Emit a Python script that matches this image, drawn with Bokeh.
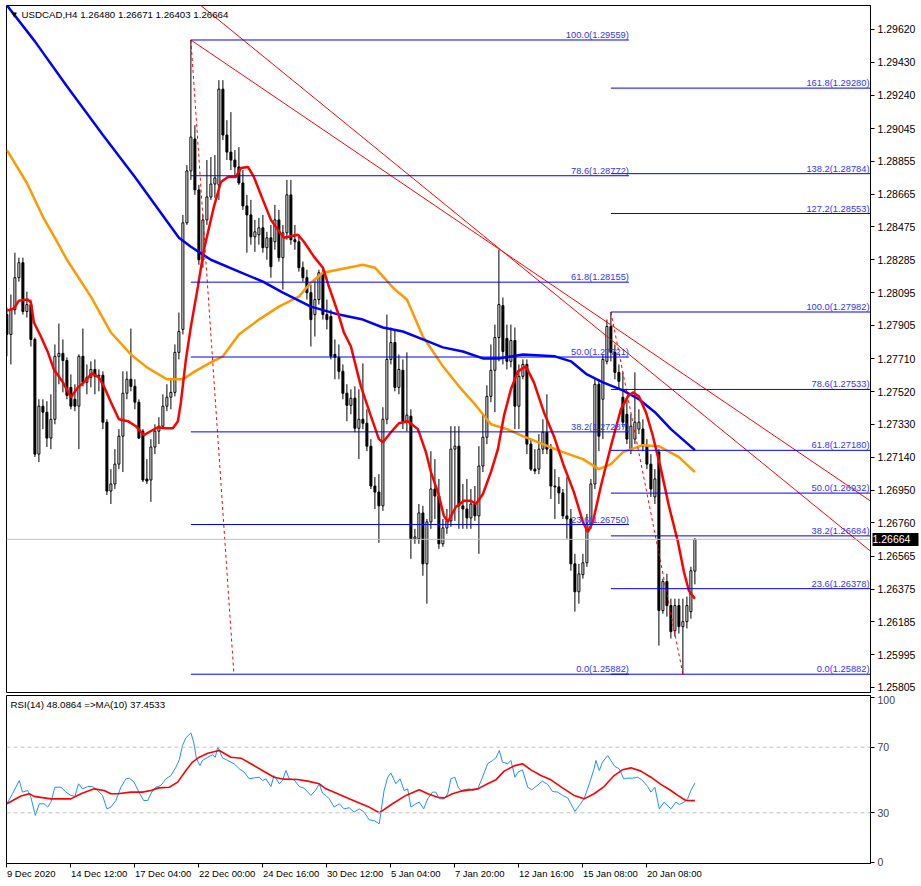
from bokeh.plotting import figure
from bokeh.models import (ColumnDataSource, Range1d, FixedTicker, Span, Label, LabelSet,
                          PrintfTickFormatter, LinearAxis)
from bokeh.layouts import column
from bokeh.embed import file_html
from bokeh.resources import INLINE
from bokeh.core.properties import value

# ---------------- data ----------------
opens = [
    1.27967, 1.27852, 1.27996, 1.28181, 1.28268, 1.27985, 1.28025, 1.27823, 1.27158, 1.27436,
    1.27401, 1.27251, 1.27360, 1.27725, 1.27742, 1.27701, 1.27545, 1.27476, 1.27436, 1.27725,
    1.27574, 1.27603, 1.27649, 1.27609, 1.27615, 1.27343, 1.26944, 1.26985, 1.27100, 1.27262,
    1.27511, 1.27592, 1.27551, 1.27459, 1.27291, 1.27014, 1.27008, 1.27199, 1.27291, 1.27320,
    1.27436, 1.27488, 1.27516, 1.27748, 1.27881, 1.28499, 1.28800, 1.28985, 1.28690, 1.28285,
    1.28516, 1.28649, 1.28724, 1.28719, 1.29274, 1.29008, 1.28909, 1.28863, 1.28823, 1.28730,
    1.28597, 1.28545, 1.28418, 1.28430, 1.28470, 1.28355, 1.28412, 1.28389, 1.28516, 1.28297,
    1.28441, 1.28661, 1.28401, 1.28389, 1.28239, 1.28181, 1.28094, 1.27967, 1.28054, 1.28210,
    1.27967, 1.27956, 1.27736, 1.27719, 1.27638, 1.27511, 1.27441, 1.27482, 1.27308, 1.27360,
    1.27337, 1.27204, 1.26973, 1.26938, 1.26858, 1.27360, 1.27707, 1.27805, 1.27545, 1.27644,
    1.27349, 1.27378, 1.26667, 1.26667, 1.26817, 1.26522, 1.26765, 1.26956, 1.26915, 1.26638,
    1.26730, 1.26771, 1.27187, 1.27204, 1.26858, 1.26840, 1.26788, 1.26869, 1.26800, 1.27089,
    1.27256, 1.27493, 1.27644, 1.27834, 1.28019, 1.27829, 1.27696, 1.27817, 1.27436, 1.27609,
    1.27678, 1.27216, 1.27071, 1.27071, 1.27187, 1.27285, 1.27187, 1.26973, 1.26968, 1.26933,
    1.26800, 1.26782, 1.26522, 1.26360, 1.26459, 1.26528, 1.26753, 1.26985, 1.27563, 1.27476,
    1.27696, 1.27898, 1.27748, 1.27632, 1.27488, 1.27389, 1.27187, 1.27245, 1.27303, 1.27303,
    1.27204, 1.27100, 1.26910, 1.27170, 1.26251, 1.26419, 1.26280, 1.26135, 1.26280, 1.26158,
    1.26187, 1.26245, 1.26480]
highs = [
    1.28008, 1.28083, 1.28326, 1.28297, 1.28297, 1.28100, 1.28054, 1.27834, 1.27476, 1.27476,
    1.27465, 1.27505, 1.27794, 1.27915, 1.27823, 1.27719, 1.27620, 1.27563, 1.27736, 1.27886,
    1.27678, 1.27696, 1.27707, 1.27649, 1.27638, 1.27360, 1.27071, 1.27187, 1.27303, 1.27638,
    1.27638, 1.27886, 1.27592, 1.27476, 1.27303, 1.27129, 1.27245, 1.27331, 1.27372, 1.27505,
    1.27563, 1.27592, 1.27794, 1.27979, 1.28545, 1.28834, 1.29559, 1.29065, 1.28719, 1.28545,
    1.28863, 1.28881, 1.28892, 1.29326, 1.29326, 1.29094, 1.29141, 1.28921, 1.28938, 1.28805,
    1.28661, 1.28632, 1.28516, 1.28528, 1.28545, 1.28447, 1.28487, 1.28603, 1.28574, 1.28487,
    1.28748, 1.28748, 1.28487, 1.28430, 1.28274, 1.28227, 1.28141, 1.28170, 1.28227, 1.28239,
    1.28054, 1.27996, 1.27823, 1.27794, 1.27678, 1.27563, 1.27534, 1.27551, 1.27534, 1.27684,
    1.27418, 1.27245, 1.27025, 1.27042, 1.27430, 1.27967, 1.27892, 1.27881, 1.27736, 1.27707,
    1.27748, 1.27418, 1.26725, 1.26869, 1.26858, 1.26782, 1.27175, 1.27129, 1.27014, 1.26782,
    1.26840, 1.27320, 1.27320, 1.27320, 1.26985, 1.27014, 1.26956, 1.26973, 1.27204, 1.27389,
    1.27557, 1.27794, 1.27909, 1.28343, 1.28066, 1.27909, 1.27909, 1.27892, 1.27678, 1.27707,
    1.27707, 1.27245, 1.27187, 1.27274, 1.27360, 1.27505, 1.27216, 1.27071, 1.27025, 1.26956,
    1.27025, 1.26840, 1.26580, 1.26522, 1.26580, 1.26811, 1.27014, 1.27592, 1.27592, 1.27736,
    1.27938, 1.27982, 1.27794, 1.27678, 1.27632, 1.27476, 1.27389, 1.27632, 1.27418, 1.27360,
    1.27245, 1.27158, 1.27071, 1.27187, 1.26436, 1.26464, 1.26320, 1.26320, 1.26320, 1.26320,
    1.26332, 1.26505, 1.26671]
lows = [
    1.27725, 1.27678, 1.27967, 1.28158, 1.27967, 1.27950, 1.27782, 1.27141, 1.27112, 1.27303,
    1.27199, 1.27187, 1.27331, 1.27563, 1.27516, 1.27476, 1.27418, 1.27407, 1.27187, 1.27551,
    1.27505, 1.27545, 1.27505, 1.27522, 1.27303, 1.26921, 1.26869, 1.26956, 1.27071, 1.27054,
    1.27476, 1.27522, 1.27418, 1.27245, 1.26996, 1.26985, 1.26881, 1.27158, 1.27216, 1.27303,
    1.27407, 1.27418, 1.27493, 1.27707, 1.27852, 1.28487, 1.28748, 1.28661, 1.28256, 1.28239,
    1.28487, 1.28632, 1.28644, 1.28632, 1.28979, 1.28863, 1.28805, 1.28776, 1.28719, 1.28574,
    1.28326, 1.28372, 1.28331, 1.28372, 1.28326, 1.28285, 1.28181, 1.28343, 1.28274, 1.28112,
    1.28401, 1.28372, 1.28343, 1.28216, 1.28158, 1.28054, 1.27782, 1.27840, 1.28025, 1.27938,
    1.27881, 1.27707, 1.27592, 1.27592, 1.27476, 1.27349, 1.27389, 1.27285, 1.27129, 1.27303,
    1.27175, 1.26956, 1.26840, 1.26644, 1.26829, 1.27331, 1.27678, 1.27522, 1.27505, 1.27303,
    1.27291, 1.26551, 1.26638, 1.26638, 1.26453, 1.26291, 1.26725, 1.26782, 1.26609, 1.26621,
    1.26696, 1.26736, 1.26771, 1.26725, 1.26725, 1.26725, 1.26725, 1.26771, 1.26580, 1.27054,
    1.27216, 1.27459, 1.27401, 1.27696, 1.27678, 1.27649, 1.27661, 1.27303, 1.27303, 1.27592,
    1.27158, 1.27060, 1.27042, 1.27042, 1.27158, 1.27158, 1.26898, 1.26782, 1.26869, 1.26782,
    1.26667, 1.26482, 1.26245, 1.26291, 1.26436, 1.26505, 1.26725, 1.26956, 1.27175, 1.27245,
    1.27678, 1.27696, 1.27592, 1.27534, 1.27314, 1.27216, 1.27158, 1.27216, 1.27274, 1.27175,
    1.27071, 1.26910, 1.26869, 1.26048, 1.26233, 1.26216, 1.26089, 1.26100, 1.26118, 1.25882,
    1.26147, 1.26204, 1.26403]
closes = [
    1.27852, 1.27996, 1.28181, 1.28268, 1.27985, 1.28025, 1.27823, 1.27158, 1.27436, 1.27401,
    1.27251, 1.27360, 1.27725, 1.27742, 1.27701, 1.27499, 1.27436, 1.27436, 1.27725, 1.27574,
    1.27603, 1.27649, 1.27609, 1.27615, 1.27343, 1.26944, 1.26985, 1.27100, 1.27262, 1.27511,
    1.27592, 1.27551, 1.27459, 1.27251, 1.27008, 1.27002, 1.27199, 1.27291, 1.27320, 1.27436,
    1.27488, 1.27516, 1.27748, 1.27869, 1.28499, 1.28800, 1.28996, 1.28690, 1.28285, 1.28516,
    1.28649, 1.28724, 1.28759, 1.29274, 1.29008, 1.28909, 1.28863, 1.28823, 1.28730, 1.28597,
    1.28545, 1.28418, 1.28447, 1.28470, 1.28355, 1.28412, 1.28245, 1.28516, 1.28297, 1.28441,
    1.28661, 1.28401, 1.28389, 1.28239, 1.28181, 1.28094, 1.27938, 1.28054, 1.28210, 1.27967,
    1.27938, 1.27725, 1.27719, 1.27638, 1.27511, 1.27441, 1.27482, 1.27308, 1.27360, 1.27337,
    1.27204, 1.26973, 1.26938, 1.26858, 1.27360, 1.27707, 1.27805, 1.27545, 1.27649, 1.27349,
    1.27384, 1.26667, 1.26678, 1.26817, 1.26522, 1.26765, 1.26956, 1.26915, 1.26638, 1.26730,
    1.26771, 1.27187, 1.27204, 1.26858, 1.26840, 1.26788, 1.26869, 1.26800, 1.27089, 1.27256,
    1.27493, 1.27644, 1.27834, 1.28025, 1.27753, 1.27696, 1.27817, 1.27436, 1.27609, 1.27678,
    1.27216, 1.27071, 1.27060, 1.27187, 1.27285, 1.27187, 1.26973, 1.26968, 1.26933, 1.26800,
    1.26782, 1.26522, 1.26360, 1.26464, 1.26528, 1.26753, 1.26985, 1.27563, 1.27262, 1.27707,
    1.27898, 1.27748, 1.27632, 1.27580, 1.27343, 1.27245, 1.27320, 1.27343, 1.27343, 1.27204,
    1.27100, 1.26956, 1.27014, 1.26251, 1.26419, 1.26280, 1.26129, 1.26280, 1.26158, 1.26187,
    1.26280, 1.26482, 1.26664]

# moving averages (bar index, price)
ma_blue_x = [0, 7, 15, 24, 32, 43, 46, 51, 58, 64, 69, 76, 83, 89, 94, 99, 104, 109, 114, 119,
             123, 129, 137, 141, 145, 149, 154, 158, 162, 166, 172]
ma_blue_y = [1.29760, 1.29551, 1.29291, 1.29008, 1.28765, 1.28412, 1.28360, 1.28285, 1.28216, 1.28158,
             1.28094, 1.28013, 1.27967, 1.27938, 1.27892, 1.27869, 1.27823, 1.27777, 1.27753, 1.27713,
             1.27713, 1.27736, 1.27725, 1.27696, 1.27620, 1.27574, 1.27528, 1.27476, 1.27401, 1.27303,
             1.27181]
ma_orange_x = [0, 5, 9, 12, 15, 21, 26, 31, 35, 40, 44, 47, 51, 54, 58, 63, 68, 73, 76, 79,
               84, 89, 92, 97, 100, 104, 109, 113, 117, 121, 125, 129, 134, 139, 144, 148, 151, 154,
               159, 163, 168, 172]
ma_orange_y = [1.28921, 1.28730, 1.28534, 1.28412, 1.28285, 1.28071, 1.27863, 1.27736, 1.27661, 1.27592,
               1.27592, 1.27638, 1.27690, 1.27725, 1.27852, 1.27938, 1.28013, 1.28071, 1.28152, 1.28210,
               1.28233, 1.28256, 1.28239, 1.28112, 1.28054, 1.27840, 1.27667, 1.27551, 1.27447, 1.27331,
               1.27303, 1.27262, 1.27216, 1.27170, 1.27129, 1.27071, 1.27100, 1.27170, 1.27210, 1.27204,
               1.27141, 1.27054]
ma_red_x = [0, 1.75, 3, 5.25, 6, 6.75, 8.5, 10.25, 11.75, 14, 16, 17.75, 19.25, 21.25, 23, 24.25, 26,
            28, 30.25, 32.25, 34.25, 35.5, 37.75, 39.75, 41.5, 42.75, 43.5, 44.75, 46, 47.75, 49.25,
            51.75, 53.5, 55.25, 57.25, 58.5, 60.25, 61.75, 64, 66, 67.75, 69.25, 72.75, 74.25, 76.75,
            79, 80.5, 82.75, 84.25, 86, 88.5, 91, 93, 94, 96, 98, 100.25, 102.75, 104.75, 106, 107.75,
            109.25, 110.25, 112.25, 114.25, 116, 117.25, 119, 121, 122.75, 124.25, 126, 127.75, 129.75,
            131.75, 134.25, 136.75, 139.25, 141.75, 144, 145.25, 146.5, 148.5, 151, 153.5, 155.25,
            156.5, 158, 159.75, 161.5, 163.5, 165.5, 167.75, 169.25, 170.5, 172]
ma_red_y = [1.27990, 1.28002, 1.28048, 1.28054, 1.28037, 1.27921, 1.27840, 1.27748, 1.27649, 1.27574,
            1.27488, 1.27545, 1.27574, 1.27626, 1.27603, 1.27551, 1.27459, 1.27360, 1.27349, 1.27320,
            1.27268, 1.27285, 1.27314, 1.27308, 1.27308, 1.27349, 1.27459, 1.27707, 1.27898, 1.28129,
            1.28343, 1.28592, 1.28736, 1.28765, 1.28765, 1.28817, 1.28823, 1.28765, 1.28632, 1.28516,
            1.28459, 1.28412, 1.28430, 1.28389, 1.28303, 1.28239, 1.28129, 1.27979, 1.27863, 1.27782,
            1.27551, 1.27378, 1.27245, 1.27227, 1.27285, 1.27337, 1.27349, 1.27303, 1.27170, 1.27054,
            1.26938, 1.26800, 1.26765, 1.26852, 1.26888, 1.26888, 1.26869, 1.26927, 1.27054, 1.27187,
            1.27378, 1.27534, 1.27638, 1.27667, 1.27574, 1.27401, 1.27262, 1.27089, 1.26938, 1.26765,
            1.26707, 1.26765, 1.26973, 1.27204, 1.27418, 1.27493, 1.27516, 1.27493, 1.27401, 1.27262,
            1.27071, 1.26858, 1.26650, 1.26476, 1.26366, 1.26320]

# Fibonacci retracements
fib1_ratios = [100.0, 78.6, 61.8, 50.0, 38.2, 23.6, 0.0]
fib1_prices = [1.29559, 1.28772, 1.28155, 1.27721, 1.27287, 1.26750, 1.25882]
fib2_ratios = [161.8, 138.2, 127.2, 100.0, 78.6, 61.8, 50.0, 38.2, 23.6, 0.0]
fib2_prices = [1.29280, 1.28784, 1.28553, 1.27982, 1.27533, 1.27180, 1.26932, 1.26684, 1.26378, 1.25882]
fib1_bar_start, fib1_bar_end, fib1_bar_low = 46, 155.5, 56.75
fib2_bar_start, fib2_bar_low = 151, 169

# trend lines (bar, price) pairs
trend_a = [(46, 1.29559), (217.25, 1.26865)]
trend_b = [(44, 1.29844), (217.25, 1.26570)]

last_price = 1.26664
header_text = "USDCAD,H4  1.26480 1.26671 1.26403 1.26664"

price_ticks = [1.29620, 1.29430, 1.29240, 1.29045, 1.28855, 1.28665, 1.28475, 1.28285, 1.28095,
               1.27905, 1.27710, 1.27520, 1.27330, 1.27140, 1.26950, 1.26760, 1.26565, 1.26375,
               1.26185, 1.25995, 1.25805]

# RSI(14) and its MA(10)
rsi_x = [0, 1.4, 3.1, 3.9, 5.2, 6, 7.1, 8.1, 9.3, 10.2, 11, 12, 13.5, 14.75, 16, 17, 17.9, 18.9, 20.2,
         21.4, 22.7, 23.9, 25, 26, 27.25, 28.5, 29.75, 30.6, 31.8, 33, 34.2, 35.2, 36.2, 37.25, 38.5,
         39.75, 41, 42.25, 43.1, 43.9, 44.75, 46, 46.7, 47.4, 48.25, 48.9, 50.2, 51.4, 52.1, 52.7,
         53.1, 53.9, 55.2, 56.8, 58.1, 59.3, 60.6, 61.8, 63.1, 63.9, 64.75, 66, 66.8, 68.1, 68.9,
         69.75, 70.6, 71.8, 73.1, 74.3, 76, 77.25, 78.1, 78.9, 79.75, 80.6, 81.8, 83.1, 84.3, 85.6,
         86.8, 88.1, 89.3, 90.6, 91.8, 93.1, 93.5, 94.3, 95.2, 96, 97.25, 98.3, 99.3, 100.2, 101,
         102.25, 103.1, 104.2, 105.2, 106.4, 107.25, 108.1, 109.3, 110.2, 111, 112, 112.8, 113.5,
         115.6, 116.4, 117.7, 118.9, 120.2, 121.4, 122.25, 123.1, 123.9, 125.2, 126, 127, 127.8,
         128.9, 130.2, 131.2, 132.25, 133.9, 135.2, 136.4, 137.7, 138.9, 140.2, 141, 142, 143.1,
         144.3, 145.6, 146.8, 147.25, 148.1, 148.9, 150.2, 151, 152, 153.1, 154.2, 155.2, 156.4,
         157.7, 158.9, 160.2, 161, 162, 163.1, 164.3, 166, 167.25, 168.1, 169.3, 170.2, 171, 172]
rsi_y = [35.5, 41.6, 49.7, 42.6, 43.6, 39.5, 28.4, 35.5, 35.5, 33.5,
         36.5, 45.6, 45.6, 42.6, 40.6, 40.0, 47.7, 44.6, 46.0, 46.0,
         43.6, 40.6, 32.4, 33.5, 37.5, 45.6, 50.7, 51.1, 48.7, 42.6,
         37.5, 37.5, 42.6, 45.6, 46.7, 50.7, 52.7, 57.8, 62.3, 71.0,
         75.7, 78.7, 73.0, 62.9, 58.8, 61.9, 63.9, 65.3, 63.9, 70.0,
         68.0, 63.5, 61.9, 59.9, 56.8, 54.8, 50.7, 51.3, 51.7, 49.7,
         50.7, 46.0, 52.7, 47.7, 49.7, 55.8, 50.7, 50.1, 46.0, 45.0,
         40.6, 44.0, 47.7, 42.0, 40.6, 38.5, 33.5, 35.5, 32.4, 33.1,
         30.4, 32.4, 30.4, 25.7, 25.3, 23.3, 30.4, 43.6, 51.7, 54.2,
         47.7, 50.7, 43.6, 44.6, 33.5, 35.5, 36.5, 32.4, 38.5, 42.6,
         42.6, 38.5, 38.5, 41.6, 50.7, 51.7, 45.6, 43.6, 44.6, 43.6,
         44.6, 51.7, 59.9, 61.9, 63.5, 68.0, 60.9, 59.9, 61.9, 51.7,
         54.8, 56.2, 45.6, 44.0, 46.0, 49.3, 47.3, 43.0, 42.6, 40.6,
         39.1, 35.5, 30.8, 34.5, 38.5, 47.7, 56.8, 61.9, 55.8, 60.9,
         64.9, 61.9, 58.2, 56.8, 50.7, 51.1, 51.1, 51.7, 49.7, 46.0,
         42.6, 45.6, 32.4, 36.5, 32.4, 36.5, 35.1, 36.5, 38.5, 43.6,
         48.1]
rsi_ma_x = [0, 3.5, 5.6, 6.8, 11, 16, 18.5, 21.8, 24.3, 26, 27.7, 31, 33.9, 36, 38, 40.6, 42.7, 44.75,
            46.4, 48.1, 50.2, 53.1, 56, 58.5, 61, 64.3, 66.8, 69.3, 72.7, 75.2, 78.1, 79.75, 82.7, 86,
            90.2, 93.1, 96.4, 99.75, 103.1, 105.2, 107.7, 109.3, 111.4, 113.5, 117.7, 120.2, 122.25,
            124.3, 126.8, 128.9, 131, 133.5, 136, 138.9, 141.8, 144.3, 146.8, 149.3, 151.8, 153.9, 156,
            158.5, 161, 163.5, 166, 167.7, 169.75, 172]
rsi_ma_y = [35.5, 40.2, 41.6, 40.0, 38.5, 38.5, 41.6, 44.6, 43.6, 41.6,
            41.6, 42.6, 42.6, 43.6, 45.2, 45.6, 48.7, 55.8, 60.9, 63.9,
            66.3, 68.0, 63.9, 63.3, 59.9, 55.2, 51.7, 50.5, 50.3, 49.3,
            47.7, 44.6, 41.6, 38.1, 33.9, 30.0, 35.5, 40.6, 44.0, 41.6,
            39.5, 39.1, 41.6, 43.2, 44.6, 47.7, 50.1, 55.4, 58.6, 59.9,
            56.2, 52.7, 50.1, 45.2, 40.6, 38.5, 41.6, 46.0, 52.7, 56.2,
            57.4, 55.4, 51.7, 47.3, 43.6, 40.6, 37.5, 37.45]
rsi_levels = [70, 30]
rsi_ticks = [0, 30, 70, 100]
rsi_text = "RSI(14) 48.0864  =>MA(10) 37.4533"

date_ticks = [0, 16, 32, 48, 64, 80, 96, 112, 128, 144, 160]
date_labels = ["9 Dec 2020", "14 Dec 12:00", "17 Dec 04:00", "22 Dec 00:00", "24 Dec 16:00",
               "30 Dec 12:00", "5 Jan 04:00", "7 Jan 20:00", "12 Jan 16:00", "15 Jan 08:00",
               "20 Jan 08:00"]

# ---------------- styling / layout ----------------
FONT = "Liberation Sans"
AXIS_FS = 10.5
X_FS = 9.5
X_START, X_END = -0.1, 215.9
Y_MIN, Y_MAX = 1.25776, 1.29759
RSI_MIN, RSI_MAX = -0.9, 101.5
W = 921
LEFT_BORDER = 6
RIGHT_BORDER = 51
TOP_BORDER = 5
MAIN_FRAME_H = 687
GAP = 3
RSI_FRAME_H = 168
XAXIS_H = 18
FRAME_W = W - LEFT_BORDER - RIGHT_BORDER
PX_PER_BAR = FRAME_W / (X_END - X_START)

# approximate glyph advance widths (em) to left-align time labels at their ticks
CHAR_EM = {"D": 0.722, "e": 0.556, "c": 0.5, "J": 0.5, "a": 0.556, "n": 0.556, " ": 0.278, ":": 0.278}


def text_px(s, size):
    return sum(CHAR_EM.get(ch, 0.556) for ch in s) * size


xr = Range1d(X_START, X_END)

p = figure(width=W, height=TOP_BORDER + MAIN_FRAME_H + GAP, x_range=xr, y_range=Range1d(Y_MIN, Y_MAX),
           x_axis_location=None, y_axis_location="right", output_backend="svg",
           toolbar_location=None, min_border=0, min_border_left=LEFT_BORDER,
           min_border_right=RIGHT_BORDER, min_border_top=TOP_BORDER, min_border_bottom=GAP,
           background_fill_color="white", border_fill_color="white")
p.grid.visible = False
p.outline_line_color = "black"
p.outline_line_width = 1

ya = p.yaxis[0]
ya.ticker = FixedTicker(ticks=price_ticks)
ya.formatter = PrintfTickFormatter(format="%.5f")
ya.major_label_text_font = FONT
ya.major_label_text_font_size = f"{AXIS_FS}px"
ya.major_label_text_color = "black"
ya.major_tick_out = 4
ya.major_tick_in = 0
ya.minor_tick_line_color = None
ya.major_label_standoff = 3
ya.axis_line_color = "black"

# last price marker on the price scale: an outer axis whose (thick, inward) tick forms
# the black box and whose label is pulled back over the scale
box_axis = LinearAxis(ticker=FixedTicker(ticks=[last_price]), formatter=PrintfTickFormatter(format="%.5f"))
box_axis.major_tick_out = 0
box_axis.major_tick_in = RIGHT_BORDER - 5
box_axis.major_tick_line_width = 13
box_axis.major_tick_line_color = "black"
box_axis.minor_tick_line_color = None
box_axis.axis_line_color = None
box_axis.major_label_standoff = -(RIGHT_BORDER - 5)
box_axis.major_label_text_font = FONT
box_axis.major_label_text_font_size = f"{AXIS_FS}px"
box_axis.major_label_text_color = "white"
p.add_layout(box_axis, "right")

# current price line
p.add_layout(Span(location=last_price, dimension="width", line_color="#c0c0c0", line_width=1))

# candles
idx = list(range(len(opens)))
up = [c >= o for o, c in zip(opens, closes)]
src = ColumnDataSource(dict(
    x=idx, h=highs, l=lows,
    top=[max(o, c) for o, c in zip(opens, closes)],
    bot=[min(o, c) for o, c in zip(opens, closes)],
    fill=["white" if u else "black" for u in up]))
p.segment(x0="x", y0="h", x1="x", y1="l", source=src, line_color="black", line_width=1)
p.vbar(x="x", width=0.5, top="top", bottom="bot", source=src,
       fill_color="fill", line_color="black", line_width=1)

# moving averages
p.line(ma_orange_x, ma_orange_y, line_color="#ff9900", line_width=2.5)
p.line(ma_blue_x, ma_blue_y, line_color="#0000ff", line_width=2.5)
p.line(ma_red_x, ma_red_y, line_color="#ff0000", line_width=2.5)

# trend lines
for (x0, y0), (x1, y1) in (trend_a, trend_b):
    p.line([x0, x1], [y0, y1], line_color="#ff0000", line_width=1)

# fib dashed connectors
p.line([fib1_bar_start, fib1_bar_low], [fib1_prices[0], fib1_prices[-1]],
       line_color="#ff0000", line_width=1, line_dash="3 3")
p.line([fib2_bar_start, fib2_bar_low], [fib2_prices[3], fib2_prices[-1]],
       line_color="#ff0000", line_width=1, line_dash="3 3")

# fib levels
FIB_COLOR = "#0000ff"
FIB_TEXT = "#3333ff"
f1 = ColumnDataSource(dict(
    x0=[fib1_bar_start] * len(fib1_prices), x1=[fib1_bar_end] * len(fib1_prices), y=fib1_prices,
    t=[f"{r:.1f}({v:.5f})" for r, v in zip(fib1_ratios, fib1_prices)]))
p.segment(x0="x0", y0="y", x1="x1", y1="y", source=f1, line_color=FIB_COLOR, line_width=1)
p.add_layout(LabelSet(x="x1", y="y", text="t", source=f1, text_align="right", text_baseline="bottom",
                      y_offset=0, text_font=value(FONT), text_font_size=value("9.3px"),
                      text_color=FIB_TEXT))

f2 = ColumnDataSource(dict(
    x0=[fib2_bar_start] * len(fib2_prices), x1=[X_END + 5] * len(fib2_prices),
    xl=[X_END] * len(fib2_prices), y=fib2_prices,
    t=[f"{r:.1f}({v:.5f})" for r, v in zip(fib2_ratios, fib2_prices)]))
p.segment(x0="x0", y0="y", x1="x1", y1="y", source=f2, line_color=FIB_COLOR, line_width=1)
p.add_layout(LabelSet(x="xl", y="y", text="t", source=f2, text_align="right", text_baseline="bottom",
                      y_offset=0, x_offset=-1, text_font=value(FONT), text_font_size=value("9.3px"),
                      text_color=FIB_TEXT))

# header
p.add_layout(Label(x=X_START, y=Y_MAX, x_offset=5, y_offset=-5, text="\u25bc", text_baseline="top",
                   text_font="DejaVu Sans", text_font_size="7px", text_color="black"))
p.add_layout(Label(x=X_START, y=Y_MAX, x_offset=15, y_offset=-3, text=header_text, text_baseline="top",
                   text_font=FONT, text_font_size="9.7px", text_color="black"))

# ---------------- RSI panel ----------------
r = figure(width=W, height=RSI_FRAME_H + XAXIS_H, x_range=xr, y_range=Range1d(RSI_MIN, RSI_MAX),
           x_axis_location="below", y_axis_location="right", output_backend="svg",
           toolbar_location=None, min_border=0, min_border_left=LEFT_BORDER,
           min_border_right=RIGHT_BORDER,
           background_fill_color="white", border_fill_color="white")
r.grid.visible = False
r.outline_line_color = "black"
r.outline_line_width = 1

for lv in rsi_levels:
    r.add_layout(Span(location=lv, dimension="width", line_color="#c0c0c0", line_width=1,
                      line_dash="4 3"))

r.line(rsi_x, rsi_y, line_color="#1e90ff", line_width=1)
r.line(rsi_ma_x, rsi_ma_y, line_color="#ff0000", line_width=1.6)

r.add_layout(Label(x=X_START, y=RSI_MAX, x_offset=4, y_offset=-3, text=rsi_text, text_baseline="top",
                   text_font=FONT, text_font_size="9.7px", text_color="black"))

ry = r.yaxis[0]
ry.ticker = FixedTicker(ticks=rsi_ticks)
ry.major_label_text_font = FONT
ry.major_label_text_font_size = f"{AXIS_FS}px"
ry.major_tick_out = 4
ry.major_tick_in = 0
ry.minor_tick_line_color = None
ry.major_label_standoff = 3
ry.axis_line_color = "black"

# tick marks only
rx = r.xaxis[0]
rx.ticker = FixedTicker(ticks=date_ticks)
rx.major_label_text_font_size = "1px"
rx.major_label_text_color = None
rx.major_tick_out = 4
rx.major_tick_in = 0
rx.minor_tick_line_color = None
rx.major_label_standoff = 0
rx.axis_line_color = "black"

# time labels, left-aligned at their ticks
label_pos = [round(t + text_px(lab, X_FS) / 2 / PX_PER_BAR, 3) for t, lab in zip(date_ticks, date_labels)]
lab_axis = LinearAxis(ticker=FixedTicker(ticks=label_pos),
                      major_label_overrides={pos: lab for pos, lab in zip(label_pos, date_labels)})
lab_axis.major_tick_out = 0
lab_axis.major_tick_in = 0
lab_axis.minor_tick_line_color = None
lab_axis.axis_line_color = None
lab_axis.major_label_standoff = 0
lab_axis.major_label_text_font = FONT
lab_axis.major_label_text_font_size = f"{X_FS}px"
lab_axis.major_label_text_color = "black"
r.add_layout(lab_axis, "below")

layout = column(p, r, spacing=0)
open("out.html", "w").write(file_html(layout, INLINE))
